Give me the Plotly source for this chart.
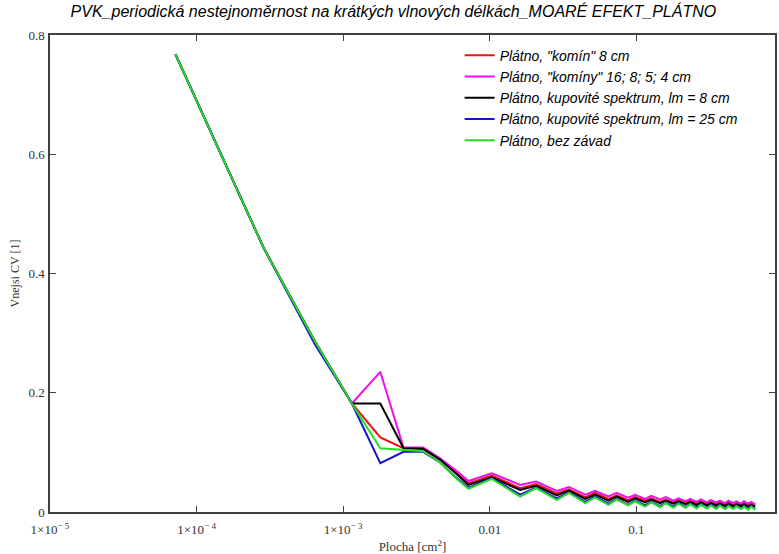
import plotly.graph_objects as go

# Plocha [cm^2] (square areas, side = n * 1/300 inch)
area = [7.17e-5, 2.867e-4, 6.452e-4, 1.147e-3, 1.792e-3, 2.581e-3, 3.512e-3, 4.588e-3,
        5.806e-3, 7.168e-3, 1.0322e-2, 1.6129e-2, 2.0717e-2, 2.8674e-2, 3.4695e-2,
        4.4803e-2, 5.2258e-2, 6.4516e-2, 7.3404e-2, 8.7813e-2, 9.8135e-2, 0.11469,
        0.12645, 0.14516, 0.15835, 0.17921, 0.19383, 0.21684, 0.23290, 0.25806,
        0.27555, 0.30287, 0.32179, 0.35125, 0.37161, 0.40322, 0.42502, 0.45877,
        0.48201, 0.51792, 0.54258, 0.58064, 0.60673, 0.64695]

head = [0.768, 0.443, 0.285, 0.182]

red = head + [0.125, 0.107, 0.106, 0.088, 0.068, 0.048, 0.061, 0.040, 0.047, 0.031, 0.038,
              0.025, 0.032, 0.022, 0.028, 0.020, 0.025, 0.019, 0.023, 0.017, 0.021, 0.016,
              0.020, 0.015, 0.019, 0.014, 0.018, 0.014, 0.017, 0.013, 0.016, 0.013, 0.016,
              0.012, 0.015, 0.012, 0.015, 0.012, 0.015, 0.011]
magenta = head + [0.235, 0.108, 0.108, 0.090, 0.071, 0.052, 0.065, 0.0455, 0.051, 0.0355, 0.042,
                  0.029, 0.0355, 0.026, 0.032, 0.024, 0.029, 0.022, 0.027, 0.021, 0.025, 0.019,
                  0.023, 0.018, 0.022, 0.017, 0.021, 0.016, 0.020, 0.016, 0.019, 0.015, 0.019,
                  0.015, 0.018, 0.014, 0.018, 0.014, 0.017, 0.013]
black = head + [0.182, 0.107, 0.106, 0.088, 0.066, 0.0455, 0.058, 0.037, 0.044, 0.028, 0.036,
                0.022, 0.029, 0.019, 0.026, 0.017, 0.023, 0.016, 0.021, 0.015, 0.019, 0.014,
                0.018, 0.013, 0.017, 0.012, 0.016, 0.011, 0.015, 0.011, 0.014, 0.010, 0.014,
                0.010, 0.013, 0.010, 0.013, 0.009, 0.012, 0.009]
blue = [0.768, 0.443, 0.280, 0.182] + [0.082, 0.101, 0.101, 0.083, 0.059, 0.041, 0.057, 0.029,
                                       0.041, 0.023, 0.033, 0.017, 0.026, 0.014, 0.022, 0.012,
                                       0.019, 0.011, 0.017, 0.010, 0.016, 0.009, 0.015, 0.008,
                                       0.014, 0.008, 0.013, 0.007, 0.012, 0.007, 0.011, 0.006,
                                       0.011, 0.006, 0.010, 0.006, 0.010, 0.006, 0.010, 0.005]
green = head + [0.107, 0.104, 0.102, 0.083, 0.058, 0.039, 0.0555, 0.026, 0.040, 0.0205, 0.032,
                0.015, 0.0245, 0.012, 0.021, 0.011, 0.018, 0.009, 0.016, 0.008, 0.015, 0.007,
                0.014, 0.007, 0.013, 0.006, 0.012, 0.006, 0.011, 0.005, 0.011, 0.005, 0.010,
                0.005, 0.010, 0.005, 0.009, 0.004, 0.009, 0.004]

series = [
    ('Plátno, "komín" 8 cm', red, '#ee1111'),
    ('Plátno, "komíny" 16; 8; 5; 4 cm', magenta, '#ee11ee'),
    ('Plátno, kupovité spektrum, lm = 8 cm', black, '#000000'),
    ('Plátno, kupovité spektrum, lm = 25 cm', blue, '#1414cc'),
    ('Plátno, bez závad', green, '#22dd22'),
]

xtick_vals = [1e-5, 1e-4, 1e-3, 0.01, 0.1]
xtick_text = ['1×10<sup>− 5</sup>', '1×10<sup>− 4</sup>', '1×10<sup>− 3</sup>', '0.01', '0.1']
ytick_vals = [0, 0.2, 0.4, 0.6, 0.8]

fig = go.Figure()
for name, ys, col in series:
    fig.add_trace(go.Scatter(x=area, y=ys, mode='lines', name=name,
                             line=dict(color=col, width=2)))

serif = 'Liberation Serif, Times New Roman, serif'
sans = 'Liberation Sans, Arial, sans-serif'

fig.update_layout(
    width=779, height=554,
    margin=dict(l=50, r=2, t=35, b=40),
    paper_bgcolor='white', plot_bgcolor='white',
    title=dict(text='PVK_periodická nestejnoměrnost na krátkých vlnových délkách_MOARÉ EFEKT_PLÁTNO',
               x=0.505, xanchor='center', y=0.99, yanchor='top',
               font=dict(family=sans, size=16, color='black', style='italic')),
    legend=dict(x=0.565, y=0.99, xanchor='left', yanchor='top',
                bgcolor='rgba(0,0,0,0)', itemwidth=30, tracegroupgap=0,
                font=dict(family=sans, size=14, color='black', style='italic')),
    xaxis=dict(type='log', range=[-5, -0.054], tickvals=xtick_vals, ticktext=xtick_text,
               ticks='inside', ticklen=6, tickcolor='#404040', mirror='ticks',
               showline=True, linecolor='#404040', linewidth=1.5, showgrid=False,
               zeroline=False, ticklabelstandoff=5,
               tickfont=dict(family=serif, size=13, color='#333333'),
               title=dict(text='Plocha [cm<sup>2</sup>]', standoff=6,
                          font=dict(family=serif, size=13, color='#333333'))),
    yaxis=dict(range=[0, 0.8], tickvals=ytick_vals,
               ticks='inside', ticklen=6, tickcolor='#404040', mirror='ticks',
               showline=True, linecolor='#404040', linewidth=1.5, showgrid=False,
               zeroline=False, ticklabelstandoff=1,
               tickfont=dict(family=serif, size=13, color='#333333'),
               title=dict(text='Vnejsi CV [1]', standoff=6,
                          font=dict(family=serif, size=12, color='#333333'))),
)

fig.write_html('out.html')
